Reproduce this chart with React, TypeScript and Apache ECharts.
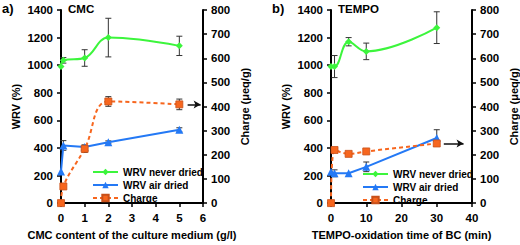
import React, { useEffect, useRef } from "react";
import * as echarts from "echarts";

// ---- Data ----
// Panel a) CMC
const aNeverX = [0, 0.1, 1, 2, 5];
const aNeverY = [990, 1035, 1052, 1200, 1140];
const aNeverErr = [0, 20, 60, 140, 70];
const aAirX = [0, 0.1, 1, 2, 5];
const aAirY = [230, 418, 406, 441, 531];
const aAirErr = [0, 35, 15, 10, 15];
const aChargeX = [0, 0.1, 1, 2, 5];
const aChargeY = [0, 69, 225, 421, 409];
const aChargeErr = [0, 0, 15, 20, 22];

// Panel b) TEMPO
const bNeverX = [0, 1, 5, 10, 30];
const bNeverY = [990, 990, 1170, 1100, 1272];
const bNeverErr = [0, 80, 30, 60, 115];
const bAirX = [0, 1, 5, 10, 30];
const bAirY = [227, 216, 216, 263, 472];
const bAirErr = [0, 25, 0, 35, 60];
const bChargeX = [0, 1, 5, 10, 30];
const bChargeY = [0, 220, 204, 214, 247];
const bChargeErr = [0, 10, 0, 0, 12];

const leftTicks = { min: 0, max: 1400, interval: 200 };
const rightTicks = { min: 0, max: 800, interval: 100 };

const GREEN = "#3CF53C";
const BLUE = "#2479F5";
const ORANGE = "#F7661E";
const FONT = "Liberation Sans";

const zip = (xs: number[], ys: number[]) => xs.map((x, i) => [x, ys[i]]);
const zipErr = (xs: number[], ys: number[], es: number[]) =>
  xs.map((x, i) => [x, ys[i], es[i]]).filter((d) => d[2] > 0);

function errSeries(data: number[][], xAxisIndex: number, yAxisIndex: number) {
  return {
    type: "custom",
    xAxisIndex,
    yAxisIndex,
    silent: true,
    z: 1,
    data,
    renderItem: (params: any, api: any) => {
      const x = api.value(0);
      const y = api.value(1);
      const e = api.value(2);
      const top = api.coord([x, y + e]);
      const bot = api.coord([x, y - e]);
      const w = 3;
      const style = { stroke: "#333", lineWidth: 1 };
      return {
        type: "group",
        children: [
          { type: "line", shape: { x1: top[0], y1: top[1], x2: bot[0], y2: bot[1] }, style },
          { type: "line", shape: { x1: top[0] - w, y1: top[1], x2: top[0] + w, y2: top[1] }, style },
          { type: "line", shape: { x1: bot[0] - w, y1: bot[1], x2: bot[0] + w, y2: bot[1] }, style },
        ],
      };
    },
  };
}

const axisText = { color: "#000", fontFamily: FONT, fontWeight: "bold" as const, fontSize: 11.5 };
const axisLine = { show: true, lineStyle: { color: "#000", width: 2 } };
const axisTick = { show: true, inside: false, length: 4, lineStyle: { color: "#000", width: 1.5 } };
const plain = (v: number) => String(v);

function xAx(gridIndex: number, max: number, interval: number, name: string) {
  return {
    type: "value",
    gridIndex,
    min: 0,
    max,
    interval,
    name,
    nameLocation: "middle",
    nameGap: 25,
    nameTextStyle: { ...axisText, fontSize: 11 },
    axisLine: { ...axisLine, onZero: false },
    axisTick,
    axisLabel: { ...axisText, margin: 9, formatter: plain },
    splitLine: { show: false },
  };
}

function yAx(gridIndex: number, pos: "left" | "right") {
  const t = pos === "left" ? leftTicks : rightTicks;
  return {
    type: "value",
    gridIndex,
    position: pos,
    min: t.min,
    max: t.max,
    interval: t.interval,
    name: pos === "left" ? "WRV (%)" : "Charge (μeq/g)",
    nameLocation: "middle",
    nameRotate: 90,
    nameGap: pos === "left" ? 40 : 36,
    nameTextStyle: { ...axisText, fontSize: 11 },
    axisLine: { ...axisLine, onZero: false },
    axisTick,
    axisLabel: { ...axisText, margin: 8, formatter: plain },
    splitLine: { show: false },
  };
}

function lineSeries(
  name: string,
  data: number[][],
  xi: number,
  yi: number,
  color: string,
  symbol: string,
  smooth: boolean,
  dashed: boolean,
  extra: any = {}
) {
  return {
    type: "line",
    name,
    xAxisIndex: xi,
    yAxisIndex: yi,
    data,
    smooth: smooth ? 0.4 : false,
    symbol,
    symbolSize: symbol === "triangle" ? 8 : 7,
    z: 3,
    lineStyle: { color, width: 2, type: dashed ? [4, 3] : "solid" },
    itemStyle: {
      color,
      borderColor: dashed ? "#C8501A" : color,
      borderWidth: dashed ? 0.8 : 0,
    },
    ...extra,
  };
}

function arrow(x1: number, x2: number, y: number) {
  return {
    markLine: {
      silent: true,
      symbol: ["none", "arrow"],
      symbolSize: [6, 7],
      label: { show: false },
      lineStyle: { color: "#111", width: 1.5, type: "solid" },
      data: [[{ coord: [x1, y] }, { coord: [x2, y] }]],
    },
  };
}

const legendNames = ["WRV never dried", "WRV air dried", "Charge"];

export default function App() {
  const ref = useRef<HTMLDivElement>(null);
  useEffect(() => {
    if (!ref.current) return;
    const chart = echarts.init(ref.current, undefined, { renderer: "svg" });
    const legendCommon = {
      orient: "vertical",
      data: legendNames,
      itemWidth: 25,
      itemHeight: 8,
      itemGap: 3,
      textStyle: { ...axisText, fontSize: 10 },
      padding: 0,
    };
    chart.setOption({
      animation: false,
      backgroundColor: "#fff",
      textStyle: { fontFamily: FONT },
      grid: [
        { left: 61, top: 10, width: 142, height: 198 },
        { left: 331, top: 10, width: 141, height: 198 },
      ],
      xAxis: [
        xAx(0, 6, 1, "CMC content of the culture medium (g/l)"),
        xAx(1, 40, 10, "TEMPO-oxidation time of BC (min)"),
      ],
      yAxis: [yAx(0, "left"), yAx(0, "right"), yAx(1, "left"), yAx(1, "right")],
      legend: [
        { ...legendCommon, left: 92, top: 167 },
        { ...legendCommon, left: 362, top: 169 },
      ],
      graphic: [
        { type: "text", left: 2, top: 2, style: { text: "a)", font: `bold 13px '${FONT}'`, fill: "#000" } },
        { type: "text", left: 68, top: 3, style: { text: "CMC", font: `bold 11.5px '${FONT}'`, fill: "#000" } },
        { type: "text", left: 272, top: 2, style: { text: "b)", font: `bold 13px '${FONT}'`, fill: "#000" } },
        { type: "text", left: 338, top: 3, style: { text: "TEMPO", font: `bold 11.5px '${FONT}'`, fill: "#000" } },
      ],
      series: [
        errSeries(zipErr(aNeverX, aNeverY, aNeverErr), 0, 0),
        errSeries(zipErr(aAirX, aAirY, aAirErr), 0, 0),
        errSeries(zipErr(aChargeX, aChargeY, aChargeErr), 0, 1),
        lineSeries("WRV never dried", zip(aNeverX, aNeverY), 0, 0, GREEN, "diamond", true, false),
        lineSeries("WRV air dried", zip(aAirX, aAirY), 0, 0, BLUE, "triangle", false, false),
        lineSeries("Charge", zip(aChargeX, aChargeY), 0, 1, ORANGE, "rect", true, true, arrow(5.35, 5.9, 409)),
        errSeries(zipErr(bNeverX, bNeverY, bNeverErr), 1, 2),
        errSeries(zipErr(bAirX, bAirY, bAirErr), 1, 2),
        errSeries(zipErr(bChargeX, bChargeY, bChargeErr), 1, 3),
        lineSeries("WRV never dried", zip(bNeverX, bNeverY), 1, 2, GREEN, "diamond", true, false),
        lineSeries("WRV air dried", zip(bAirX, bAirY), 1, 2, BLUE, "triangle", false, false),
        lineSeries("Charge", zip(bChargeX, bChargeY), 1, 3, ORANGE, "rect", true, true, arrow(32, 37.6, 247)),
      ],
    });
    return () => chart.dispose();
  }, []);
  return (
    <div
      ref={ref}
      style={{ position: "fixed", left: 0, top: 0, width: 520, height: 245 }}
    />
  );
}
